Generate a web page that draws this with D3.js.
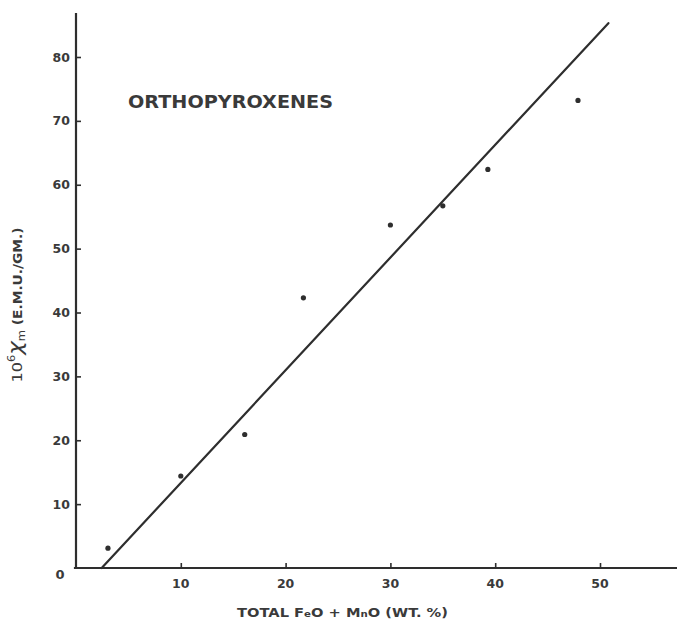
<!DOCTYPE html>
<html>
<head>
<meta charset="utf-8">
<script src="https://cdn.jsdelivr.net/npm/d3@7"></script>
<style>
html,body{margin:0;padding:0;background:#fff;}
text{font-family:"DejaVu Sans",sans-serif;fill:#3a3a3a;}
</style>
</head>
<body>
<svg id="chart" width="677" height="621"></svg>
<script>
// Data
const feoMno = [3.05, 10.0, 16.1, 21.7, 30.0, 35.0, 39.3, 47.9];
const chiM   = [3.1, 14.4, 20.9, 42.3, 53.7, 56.7, 62.4, 73.2];
const fitX = [2.45, 50.8];
const fitY = [0, 85.3];
const xTicks = [10, 20, 30, 40, 50];
const yTicks = [10, 20, 30, 40, 50, 60, 70, 80];
const titleText = "ORTHOPYROXENES";

const svg = d3.select("#chart");
const x = d3.scaleLinear().domain([0, 50]).range([76, 600]);
const y = d3.scaleLinear().domain([0, 80]).range([568, 57]);
const ink = "#2e2e2e";

// axes lines
svg.append("line").attr("x1", x(0)).attr("x2", x(0)).attr("y1", y(0)).attr("y2", y(86.9))
  .attr("stroke", ink).attr("stroke-width", 2.2);
svg.append("line").attr("x1", x(-0.2)).attr("x2", x(57.5)).attr("y1", y(0)).attr("y2", y(0))
  .attr("stroke", ink).attr("stroke-width", 2.2);

// x axis ticks (inward)
const xAxis = d3.axisTop(x).tickValues(xTicks).tickSize(5).tickFormat("");
const gx = svg.append("g").attr("transform", `translate(0,${y(0)})`).call(xAxis);
gx.select(".domain").remove();
gx.selectAll("line").attr("stroke", ink).attr("stroke-width", 1.6);
svg.selectAll(".xlab").data(xTicks).enter().append("text")
  .attr("x", d => x(d)).attr("y", 588).attr("text-anchor", "middle")
  .attr("font-size", 12.5).attr("font-weight", "bold").attr("fill", "#444").text(d => d);

// y axis ticks (inward)
const yAxis = d3.axisRight(y).tickValues(yTicks).tickSize(5).tickFormat("");
const gy = svg.append("g").attr("transform", `translate(${x(0)},0)`).call(yAxis);
gy.select(".domain").remove();
gy.selectAll("line").attr("stroke", ink).attr("stroke-width", 1.6);
svg.selectAll(".ylab").data(yTicks).enter().append("text")
  .attr("x", 70).attr("y", d => y(d) + 4.5).attr("text-anchor", "end")
  .attr("font-size", 12.5).attr("font-weight", "bold").attr("fill", "#444").text(d => d);
svg.append("text").attr("x", 60).attr("y", 579).attr("text-anchor", "middle")
  .attr("font-size", 13).attr("font-weight", "bold").attr("fill", "#444").text("0");

// fit line
svg.append("line").attr("x1", x(fitX[0])).attr("y1", y(fitY[0]))
  .attr("x2", x(fitX[1])).attr("y2", y(fitY[1]))
  .attr("stroke", ink).attr("stroke-width", 2.2).attr("stroke-linecap", "round");

// points
svg.selectAll(".pt").data(feoMno.map((v, i) => [v, chiM[i]])).enter().append("circle")
  .attr("cx", d => x(d[0])).attr("cy", d => y(d[1])).attr("r", 2.6).attr("fill", ink);

// title
svg.append("text").attr("x", 128).attr("y", 108).attr("font-size", 18).attr("font-weight", "bold")
  .attr("textLength", 205).attr("lengthAdjust", "spacingAndGlyphs")
  .text(titleText);

// x label
const xl = svg.append("text").attr("x", 237).attr("y", 617).attr("font-size", 11.5)
  .attr("font-weight", "bold").attr("fill", "#444")
  .attr("textLength", 211).attr("lengthAdjust", "spacingAndGlyphs");
xl.append("tspan").text("TOTAL   F");
xl.append("tspan").attr("font-size", 8).text("e");
xl.append("tspan").text("O + M");
xl.append("tspan").attr("font-size", 8).text("n");
xl.append("tspan").text("O  (WT. %)");

// y label
const yl = svg.append("text").attr("transform", "translate(22,305) rotate(-90)")
  .attr("text-anchor", "middle").attr("font-size", 14).attr("fill", "#444")
  .attr("textLength", 155).attr("lengthAdjust", "spacingAndGlyphs");
yl.append("tspan").text("10");
yl.append("tspan").attr("font-size", 10).attr("dy", -7).text("6");
yl.append("tspan").attr("font-size", 20).attr("dy", 7).attr("font-style", "italic").text("χ");
yl.append("tspan").attr("font-size", 10).attr("dy", 3).text("m");
yl.append("tspan").attr("font-size", 12).attr("font-weight", "bold").attr("dy", -3).text(" (E.M.U./GM.)");
</script>
</body>
</html>
